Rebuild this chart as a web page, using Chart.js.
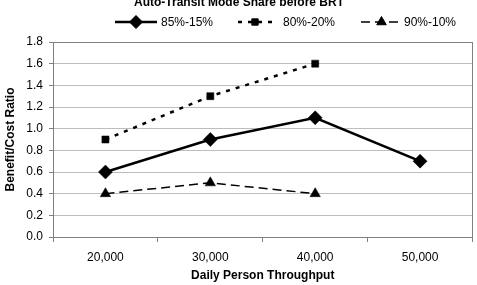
<!DOCTYPE html>
<html><head><meta charset="utf-8">
<script src="https://cdn.jsdelivr.net/npm/chart.js@4/dist/chart.umd.min.js"></script>
<style>html,body{margin:0;padding:0;background:#fff;overflow:hidden}#wrap{width:480px;height:285px}</style>
</head><body><div id="wrap"><canvas id="c"></canvas></div>
<script>
const categories = ['20,000', '30,000', '40,000', '50,000'];
const share8515 = [0.6, 0.9, 1.1, 0.7];
const share8020 = [0.9, 1.3, 1.6, null];
const share9010 = [0.4, 0.5, 0.4, null];
const seriesNames = ['85%-15%', '80%-20%', '90%-10%'];
const chartTitle = 'Auto-Transit Mode Share before BRT';

const FONT = '"Liberation Sans", Arial, Helvetica, sans-serif';

const legendPlugin = {
  id: 'customLegend',
  afterDraw(chart) {
    const ctx = chart.ctx;
    ctx.save();
    ctx.fillStyle = '#000';
    ctx.font = 'bold 12px ' + FONT;
    ctx.textAlign = 'center';
    ctx.textBaseline = 'middle';
    ctx.fillText(chartTitle, 239, 3);
    const items = [
      {x0: 115, x1: 157, tx: 161},
      {x0: 238, x1: 272, tx: 283},
      {x0: 361, x1: 402, tx: 404}
    ];
    const y = 22;
    chart.data.datasets.forEach((ds, i) => {
      const it = items[i];
      ctx.save();
      ctx.strokeStyle = ds.borderColor;
      ctx.lineWidth = ds.borderWidth;
      ctx.setLineDash(ds.borderDash || []);
      ctx.beginPath(); ctx.moveTo(it.x0, y); ctx.lineTo(it.x1, y); ctx.stroke();
      ctx.restore();
      ctx.fillStyle = '#000'; ctx.strokeStyle = '#000';
      Chart.helpers.drawPoint(ctx, {pointStyle: ds.pointStyle, radius: ds.pointRadius - 0.5, borderWidth: 1, rotation: 0}, (it.x0 + it.x1) / 2, y);
      ctx.fillStyle = '#000';
      ctx.font = '12px ' + FONT;
      ctx.textAlign = 'left';
      ctx.fillText(ds.label, it.tx, y + 0.5);
    });
    const a = chart.chartArea;
    ctx.strokeStyle = '#808080';
    ctx.lineWidth = 1;
    ctx.setLineDash([]);
    ctx.strokeRect(Math.round(a.left) + 0.5, Math.round(a.top) + 0.5, Math.round(a.right - a.left) - 1, Math.round(a.bottom - a.top));
    ctx.restore();
  }
};

const ctxEl = document.getElementById('c');
new Chart(ctxEl, {
  type: 'line',
  data: {
    labels: categories,
    datasets: [
      {label: seriesNames[0], data: share8515, borderColor: '#000', backgroundColor: '#000', borderWidth: 2.5,
       pointStyle: 'rectRot', pointRadius: 7, pointBorderWidth: 0.5, tension: 0},
      {label: seriesNames[1], data: share8020, borderColor: '#000', backgroundColor: '#000', borderWidth: 2.5,
       borderDash: [4, 6], pointStyle: 'rect', pointRadius: 5, pointBorderWidth: 0.5, tension: 0},
      {label: seriesNames[2], data: share9010, borderColor: '#000', backgroundColor: '#000', borderWidth: 1.5,
       borderDash: [9, 5], pointStyle: 'triangle', pointRadius: 6, pointBorderWidth: 0.5, tension: 0}
    ]
  },
  options: {
    responsive: true,
    maintainAspectRatio: false,
    animation: false,
    layout: {padding: {top: 42, right: 0, left: 0, bottom: 0}},
    plugins: {legend: {display: false}, title: {display: false}, tooltip: {enabled: false}},
    scales: {
      x: {
        type: 'category',
        offset: true,
        grid: {offset: true, drawOnChartArea: false, color: '#808080', tickLength: 5},
        border: {color: '#808080'},
        ticks: {color: '#000', font: {family: FONT, size: 12}, padding: 8, maxRotation: 0},
        title: {display: true, text: 'Daily Person Throughput', color: '#000', font: {family: FONT, size: 12, weight: 'bold'}, padding: {top: 3, bottom: 2}},
        afterFit(s) { s.height = 48; s.paddingLeft = 0; s.paddingRight = 0; }
      },
      y: {
        min: 0, max: 1.8,
        grid: {color: '#bdbdbd', borderDash: [1, 2], tickLength: 4, tickColor: '#808080', tickBorderDash: []},
        border: {color: '#808080'},
        ticks: {stepSize: 0.2, color: '#000', font: {family: FONT, size: 12}, padding: 6,
                callback: v => Number(v).toFixed(1)},
        title: {display: true, text: 'Benefit/Cost Ratio', color: '#000', font: {family: FONT, size: 12, weight: 'bold'}, padding: {top: 3, bottom: 2}},
        afterFit(s) { s.width = 53; s.paddingTop = 0; s.paddingBottom = 0; }
      }
    }
  },
  plugins: [legendPlugin]
});
</script></body></html>
